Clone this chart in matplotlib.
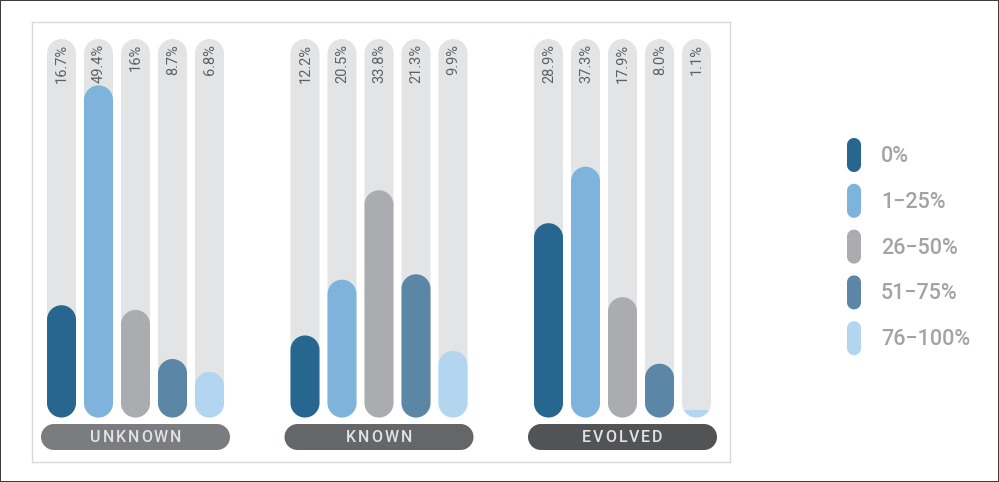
import numpy as np
import matplotlib
matplotlib.use("Agg")
import matplotlib.pyplot as plt
from matplotlib.patches import Polygon, Rectangle

plt.rcParams['font.family'] = ['Roboto', 'DejaVu Sans']

# ---- data -------------------------------------------------------------
groups = ["UNKNOWN", "KNOWN", "EVOLVED"]
categories = ["0%", "1\u221225%", "26\u221250%", "51\u221275%", "76\u2212100%"]
unknown = [16.7, 49.4, 16.0, 8.7, 6.8]
known = [12.2, 20.5, 33.8, 21.3, 9.9]
evolved = [28.9, 37.3, 17.9, 8.0, 1.1]
value_labels = [["16.7%", "49.4%", "16%", "8.7%", "6.8%"],
                ["12.2%", "20.5%", "33.8%", "21.3%", "9.9%"],
                ["28.9%", "37.3%", "17.9%", "8.0%", "1.1%"]]
series = [unknown, known, evolved]

# ---- style ------------------------------------------------------------
colors = ["#27668f", "#7eb4dc", "#abacb0", "#5c86a6", "#b2d5f0"]
track_color = "#e3e4e6"
pill_colors = ["#7b7c7f", "#656668", "#525355"]
TRACK_MAX = 56.3          # value reached by the top of each track

W, H = 999, 482
fig = plt.figure(figsize=(W / 100, H / 100), dpi=100)
fig.patch.set_facecolor("white")
fig.patch.set_edgecolor("#3c3c3c")
fig.patch.set_linewidth(1.2)
renderer = fig.canvas.get_renderer()

# panel axes (x in pixel-sized units, y in percent)
pl, pt, pr, pb = 32, 22, 730, 462
ax = fig.add_axes([pl / W, (H - pb) / H, (pr - pl) / W, (pb - pt) / H])
track_top_px, track_bot_px = 39, 417.5
PX = TRACK_MAX / (track_bot_px - track_top_px)   # percent per pixel
ax.set_xlim(0, pr - pl)
ax.set_ylim(-(pb - track_bot_px) * PX, TRACK_MAX + (track_top_px - pt) * PX)
ax.set_xticks([])
ax.set_yticks([])
for s in ax.spines.values():
    s.set_color("#dadada")
    s.set_linewidth(1.0)

bar_w = 29
slot = 37
group_step = 243.5
first_center = 29.5


def pill_vertices(x0, y0, w, h, yscale):
    """Vertical stadium: x0, w in x units; y0, h in y units; yscale = y per x."""
    r = w / 2
    ry = r * yscale
    cx = x0 + r
    t_top = np.linspace(0, np.pi, 40)
    t_bot = np.linspace(np.pi, 2 * np.pi, 40)
    top = np.column_stack([cx + r * np.cos(t_top), y0 + h - ry + ry * np.sin(t_top)])
    bot = np.column_stack([cx + r * np.cos(t_bot), y0 + ry + ry * np.sin(t_bot)])
    return np.vstack([top, bot])


def hpill_vertices(cx, cy, w, h_x, yscale):
    """Horizontal stadium centred at (cx, cy); w and h_x in x units."""
    rr = h_x / 2
    t = np.linspace(-np.pi / 2, np.pi / 2, 40)
    right = np.column_stack([cx + w / 2 - rr + rr * np.cos(t), cy + rr * yscale * np.sin(t)])
    t2 = np.linspace(np.pi / 2, 3 * np.pi / 2, 40)
    left = np.column_stack([cx - w / 2 + rr + rr * np.cos(t2), cy + rr * yscale * np.sin(t2)])
    return np.vstack([right, left])


def add_pill(axis, x0, y0, w, h, color, yscale, z=2):
    p = Polygon(pill_vertices(x0, y0, w, h, yscale), closed=True,
                facecolor=color, edgecolor="none", zorder=z)
    axis.add_patch(p)
    return p


def spaced_text(axis, cx, cy, s, spacing_px, **kw):
    """Centre a string at (cx, cy) with extra tracking between letters (x units = px)."""
    widths = []
    for ch in s:
        t = axis.text(0, 0, ch, **kw)
        widths.append(t.get_window_extent(renderer).width)
        t.remove()
    total = sum(widths) + spacing_px * (len(s) - 1)
    x = cx - total / 2
    for ch, w in zip(s, widths):
        axis.text(x, cy, ch, ha="left", va="center", **kw)
        x += w + spacing_px


for g, vals in enumerate(series):
    for i, v in enumerate(vals):
        cx = first_center + g * group_step + i * slot
        x0 = cx - bar_w / 2
        track = add_pill(ax, x0, 0, bar_w, TRACK_MAX, track_color, PX, z=1)
        if v / PX >= bar_w:
            add_pill(ax, x0, 0, bar_w, v, colors[i], PX, z=2)
        else:
            r = Rectangle((x0, 0), bar_w, v, facecolor=colors[i],
                          edgecolor="none", zorder=2)
            ax.add_patch(r)
            r.set_clip_path(track)
        ax.text(cx + 0.5, TRACK_MAX - 5 * PX, value_labels[g][i], rotation=90,
                ha="center", va="top", fontsize=10.5, color="#5f6062", zorder=3)

    # group label pill
    gc = first_center + g * group_step + 2 * slot
    pw, ph = 189, 26
    cy = -(424 + ph / 2 - track_bot_px) * PX
    ax.add_patch(Polygon(hpill_vertices(gc, cy, pw, ph, PX), closed=True,
                         facecolor=pill_colors[g], edgecolor="none", zorder=2))
    spaced_text(ax, gc, cy, groups[g], 1.9, fontsize=11.5, fontweight="medium",
                color="#e2e2e4", zorder=3)

# legend (pixel coordinates, y downward)
lax = fig.add_axes([0, 0, 1, 1])
lax.set_xlim(0, W)
lax.set_ylim(H, 0)
lax.axis("off")
leg_y0, leg_step = 155, 45.8
for i, lab in enumerate(categories):
    cy = leg_y0 + i * leg_step
    lax.add_patch(Polygon(pill_vertices(847, cy + 17, 14, -34, -1.0), closed=True,
                          facecolor=colors[i], edgecolor="none"))
    lax.text(881, cy + 1.5, lab, ha="left", va="center", fontsize=15.5,
             fontweight="medium", color="#a2a3a7")

fig.savefig("out.png", dpi=100, facecolor=fig.get_facecolor(),
            edgecolor=fig.get_edgecolor())
